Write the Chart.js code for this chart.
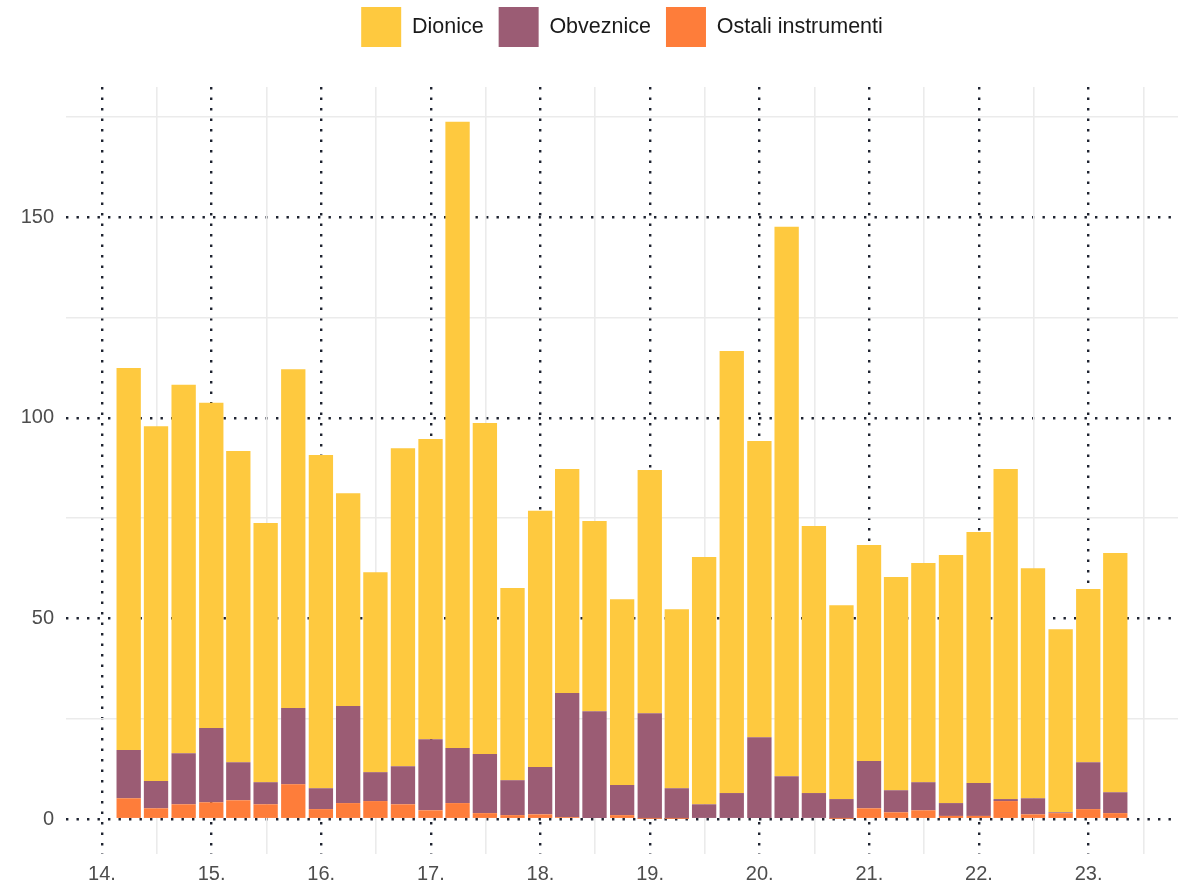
<!DOCTYPE html>
<html>
<head>
<meta charset="utf-8">
<script src="https://cdn.jsdelivr.net/npm/chart.js@4"></script>
<style>
  html, body { margin: 0; padding: 0; background: #fff; }
  #wrap { width: 1188px; height: 887px; position: relative; }
</style>
</head>
<body>
<div id="wrap"><canvas id="chart"></canvas></div>
<script>
// quarter-end dates (one bar per quarter)
const quarters = [
  '2014-03-31', '2014-06-30', '2014-09-30', '2014-12-31',
  '2015-03-31', '2015-06-30', '2015-09-30', '2015-12-31',
  '2016-03-31', '2016-06-30', '2016-09-30', '2016-12-31',
  '2017-03-31', '2017-06-30', '2017-09-30', '2017-12-31',
  '2018-03-31', '2018-06-30', '2018-09-30', '2018-12-31',
  '2019-03-31', '2019-06-30', '2019-09-30', '2019-12-31',
  '2020-03-31', '2020-06-30', '2020-09-30', '2020-12-31',
  '2021-03-31', '2021-06-30', '2021-09-30', '2021-12-31',
  '2022-03-31', '2022-06-30', '2022-09-30', '2022-12-31',
  '2023-03-31'
];

const dionice = [95.2, 88.4, 91.8, 81.0, 77.5, 64.6, 84.4, 83.0, 53.0, 49.8, 79.2, 74.8, 156.0, 82.5, 47.9, 63.8, 55.8, 47.4, 46.3, 60.6, 44.6, 61.6, 110.1, 73.8, 136.9, 66.5, 48.3, 53.8, 53.1, 54.6, 61.8, 62.5, 82.2, 57.3, 45.6, 43.1, 59.6];
const obveznice = [12.0, 6.8, 12.7, 18.5, 9.5, 5.5, 19.0, 5.2, 24.2, 7.2, 9.5, 17.7, 13.7, 14.7, 8.7, 11.8, 30.9, 26.6, 7.5, 26.3, 7.6, 3.4, 6.2, 20.1, 10.4, 6.2, 4.9, 11.8, 5.5, 7.0, 3.2, 8.2, 0.5, 4.0, 0.2, 11.7, 5.2];
const ostali = [5.2, 2.7, 3.7, 4.2, 4.7, 3.7, 8.7, 2.5, 4.0, 4.5, 3.7, 2.2, 4.0, 1.5, 1.0, 1.2, 0.5, 0.3, 1.0, 0.1, 0.1, 0.3, 0.3, 0.3, 0.3, 0.3, 0.1, 2.7, 1.7, 2.2, 0.8, 0.8, 4.5, 1.2, 1.5, 2.5, 1.5];

const yearTicks = [14, 15, 16, 17, 18, 19, 20, 21, 22, 23];
const yearLabels = ['14.', '15.', '16.', '17.', '18.', '19.', '20.', '21.', '22.', '23.'];
const halfYearTicks = [14.5, 15.5, 16.5, 17.5, 18.5, 19.5, 20.5, 21.5, 22.5, 23.5];
const valueTicks = [0, 50, 100, 150];
const minorValueTicks = [25, 75, 125, 175];

const xMin = 13.672, xMax = 23.816;
const yMin = -8.685, yMax = 182.385;

const fontFamily = "'Liberation Sans', Arial, sans-serif";
const dotColor = '#1e2330';
const minorColor = '#ebebeb';

// date string -> years since 2000 (fraction of the year)
function toYear(s) {
  const [y, m, d] = s.split('-').map(Number);
  const t0 = Date.UTC(y, 0, 1), t1 = Date.UTC(y + 1, 0, 1);
  return y - 2000 + (Date.UTC(y, m - 1, d) - t0) / (t1 - t0);
}
const xs = quarters.map(toYear);
const pts = arr => arr.map((v, i) => ({ x: xs[i], y: v }));

const setTicks = list => s => { s.ticks = list.map(v => ({ value: v })); };

const ctx = document.getElementById('chart').getContext('2d');
new Chart(ctx, {
  type: 'bar',
  data: {
    datasets: [
      { label: 'Ostali instrumenti', data: pts(ostali), backgroundColor: '#fe7d3a', stack: 's' },
      { label: 'Obveznice', data: pts(obveznice), backgroundColor: '#9b5c74', stack: 's' },
      { label: 'Dionice', data: pts(dionice), backgroundColor: '#fec93f', stack: 's' }
    ]
  },
  options: {
    responsive: true,
    maintainAspectRatio: false,
    animation: false,
    barPercentage: 0.9,
    categoryPercentage: 1,
    layout: { padding: { left: 0, right: 10, top: -8, bottom: 0 } },
    plugins: {
      tooltip: { enabled: false },
      legend: {
        position: 'top',
        fullSize: false,
        reverse: true,
        labels: {
          boxWidth: 40,
          boxHeight: 40,
          padding: 15,
          color: '#1a1a1a',
          font: { family: fontFamily, size: 21.5 }
        }
      }
    },
    scales: {
      x: {
        type: 'linear',
        offset: false,
        min: xMin, max: xMax,
        afterBuildTicks: setTicks(yearTicks),
        afterFit: s => { s.height = 33; },
        ticks: {
          callback: (v, i) => yearLabels[i],
          color: '#4d4d4d',
          font: { family: fontFamily, size: 20 },
          padding: 8,
          maxRotation: 0,
          autoSkip: false
        },
        grid: { offset: false, color: dotColor, lineWidth: 2.4, drawTicks: false },
        border: { display: false, dash: [2.4, 8.1] }
      },
      y: {
        type: 'linear',
        stacked: true,
        min: yMin, max: yMax,
        afterBuildTicks: setTicks(valueTicks),
        afterFit: s => { s.width = 66; },
        ticks: {
          color: '#4d4d4d',
          font: { family: fontFamily, size: 20 },
          padding: 12
        },
        grid: { color: dotColor, lineWidth: 2.4, drawTicks: false },
        border: { display: false, dash: [2.4, 8.1] }
      },
      xMinor: {
        axis: 'x',
        type: 'linear',
        position: 'top',
        offset: false,
        min: xMin, max: xMax,
        afterBuildTicks: setTicks(halfYearTicks),
        afterFit: s => { s.height = 30; },
        ticks: { display: false },
        grid: { offset: false, color: minorColor, lineWidth: 1.6, drawTicks: false, z: -1 },
        border: { display: false }
      },
      yMinor: {
        axis: 'y',
        type: 'linear',
        position: 'right',
        min: yMin, max: yMax,
        afterBuildTicks: setTicks(minorValueTicks),
        afterFit: s => { s.width = 0; },
        ticks: { display: false },
        grid: { color: minorColor, lineWidth: 1.6, drawTicks: false, z: -1 },
        border: { display: false }
      }
    }
  }
});
</script>
</body>
</html>
